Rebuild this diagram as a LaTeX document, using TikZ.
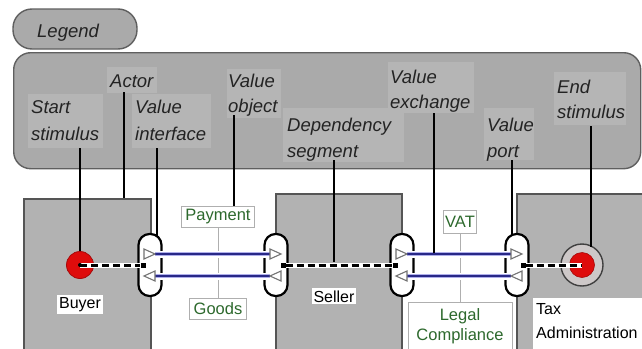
\documentclass[tikz,border=0pt]{standalone}
\usepackage{fontspec}
\setmainfont{Liberation Sans}
\usetikzlibrary{shapes.geometric}
\definecolor{legfill}{RGB}{170,170,170}
\definecolor{legtextbg}{RGB}{181,181,181}
\definecolor{legdraw}{RGB}{95,95,95}
\definecolor{actfill}{RGB}{178,178,178}
\definecolor{actdraw}{RGB}{85,85,85}
\definecolor{stimred}{RGB}{222,12,12}
\definecolor{endgray}{RGB}{205,200,200}
\definecolor{navyline}{RGB}{40,40,135}
\definecolor{halo}{RGB}{175,175,235}
\definecolor{lblgreen}{RGB}{45,105,45}
\definecolor{lblborder}{RGB}{175,175,175}
\definecolor{porttri}{RGB}{115,115,115}
\definecolor{legtxt}{RGB}{35,35,35}
\begin{document}
\begin{tikzpicture}[x=1pt,y=-1pt,
  legtxt/.style={font=\fontsize{18.5}{22}\selectfont\itshape, text=legtxt, inner sep=0pt, anchor=base west},
  actorbox/.style={draw=actdraw, fill=actfill, line width=2pt, rectangle, inner sep=0pt, anchor=north west},
  iface/.style={draw=black, fill=white, line width=2.2pt, rectangle, rounded corners=11pt, minimum width=23pt, minimum height=62pt, inner sep=0pt},
  leader/.style={draw=black, line width=1.1pt},
  lbl/.style={draw=lblborder, fill=white, line width=0.8pt, font=\fontsize{16.5}{20}\selectfont, text=lblgreen, inner xsep=4pt, minimum height=21pt, inner ysep=0pt},
  lbltext/.style={font=\fontsize{16.5}{20}\selectfont, text=lblgreen, inner sep=0pt, anchor=base},
  lblline/.style={draw=lblborder, line width=0.8pt},
  exch/.style={draw=navyline, line width=2pt, preaction={draw=white, line width=7pt}, preaction={draw=halo, line width=4pt}},
  dep/.style={draw=black, line width=3pt, dash pattern=on 7pt off 4pt, preaction={draw=white, line width=5pt}},
  port/.style={draw=porttri, fill=white, line width=1.1pt, line join=miter},
  actlbl/.style={font=\fontsize{16}{20}\selectfont, text=black, fill=white, inner sep=2pt},
  depdot/.style={fill=black, rectangle, minimum size=5pt, inner sep=0pt}
]
\clip (0,0) rectangle (642,348);
\fill[white] (0,0) rectangle (642,348);

% legend
\node[draw=legdraw, fill=legfill, line width=1.4pt, rectangle, rounded corners=19pt, minimum width=124pt, minimum height=40pt, inner sep=0pt] (legend) at (75,29) {};
\node[legtxt] (legendtxt) at (37,37) {Legend};
\node[draw=legdraw, fill=legfill, line width=1.4pt, rectangle, rounded corners=17pt, minimum width=627pt, minimum height=116pt, inner sep=0pt, anchor=north west] (legbox) at (13,52) {};

% text backgrounds
\fill[legtextbg] (28,94) rectangle (103,148);
\fill[legtextbg] (107,67) rectangle (157,93);
\fill[legtextbg] (132,94) rectangle (211,148);
\fill[legtextbg] (227,69) rectangle (281,118);
\fill[legtextbg] (283,108) rectangle (404,162);
\fill[legtextbg] (388,62) rectangle (474,113);
\fill[legtextbg] (484,108) rectangle (534,160);
\fill[legtextbg] (554,72) rectangle (626,125);

% legend texts
\node[legtxt] (tstart1) at (31,113) {Start};
\node[legtxt] (tstart2) at (31,140) {stimulus};
\node[legtxt] (tactor) at (110,87) {Actor};
\node[legtxt] (tvi1) at (135,113) {Value};
\node[legtxt] (tvi2) at (135,140) {interface};
\node[legtxt] (tvo1) at (228,87) {Value};
\node[legtxt] (tvo2) at (228,112) {object};
\node[legtxt] (tds1) at (287,131) {Dependency};
\node[legtxt] (tds2) at (287,157) {segment};
\node[legtxt] (tve1) at (390,83) {Value};
\node[legtxt] (tve2) at (390,108) {exchange};
\node[legtxt] (tvp1) at (487,131) {Value};
\node[legtxt] (tvp2) at (487,157) {port};
\node[legtxt] (tes1) at (557,93) {End};
\node[legtxt] (tes2) at (557,118) {stimulus};

% actors
\node[actorbox, minimum width=127pt, minimum height=170pt] (buyer) at (23,198) {};
\node[actorbox, minimum width=126pt, minimum height=170pt] (seller) at (275,193) {};
\node[actorbox, minimum width=140pt, minimum height=170pt] (tax) at (516,193) {};

% leader line top ends
\coordinate (lstart) at (80,148);
\coordinate (lactor) at (124,92);
\coordinate (lvi) at (157,148);
\coordinate (lvo) at (234,115);
\coordinate (lds) at (334,160);
\coordinate (lve) at (434,113);
\coordinate (lvp) at (512,160);
\coordinate (les) at (591,126);

% value object labels
\node[lbl] (pay) at (218,217) {Payment};
\node[lbl] (goods) at (218,309) {Goods};
\node[lbl, inner xsep=1.5pt, minimum height=23pt] (vat) at (460,221.5) {VAT};
\node[draw=lblborder, fill=white, line width=0.8pt, rectangle, minimum width=104pt, minimum height=60pt, inner sep=0pt, anchor=north] (legal) at (460,302) {};
\node[lbltext] (legal1) at (460,320) {Legal};
\node[lbltext] (legal2) at (460,340) {Compliance};
\draw[lblline] (pay.south) -- (goods.north);
\draw[lblline] (vat.south) -- (legal.north -| vat.south);

% interfaces
\node[iface] (ib) at (150,265) {};
\node[iface] (is1) at (276,265) {};
\node[iface] (is2) at (402,265) {};
\node[iface] (it) at (517,265) {};

% leader lines
\draw[leader] (lactor) -- (lactor |- buyer.north);
\draw[leader] (lvi) -- (157,236);
\draw[leader] (lvo) -- (lvo |- pay.north);
\draw[leader] (lvp) -- (512,234.5);

% port coordinates
\foreach \n/\c in {b/150, s/276, r/402, t/517}{
  \coordinate (\n top) at (\c,254);
  \coordinate (\n bot) at (\c,276);
}
% exchanges
\draw[exch] ([xshift=5pt]btop) -- ([xshift=-6pt]stop);
\draw[exch] ([xshift=-6pt]sbot) -- ([xshift=5pt]bbot);
\draw[exch] ([xshift=5pt]rtop) -- ([xshift=-6pt]ttop);
\draw[exch] ([xshift=-6pt]tbot) -- ([xshift=5pt]rbot);
\draw[leader] (lve) -- (434,252.5);

% ports
\foreach \n in {b, s, r, t}{
  \draw[port] ([shift={(-6pt,-5pt)}]\n top) -- ([xshift=5pt]\n top) -- ([shift={(-6pt,5pt)}]\n top) -- cycle;
  \draw[port] ([shift={(5pt,-5pt)}]\n bot) -- ([xshift=-6pt]\n bot) -- ([shift={(5pt,5pt)}]\n bot) -- cycle;
}

% stimuli
\draw[leader] (lstart) -- (80,258);
\node[circle, fill=stimred, draw=stimred!75!black, line width=0.8pt, minimum size=27pt, inner sep=0pt] (start) at (80,265) {};
\node[circle, fill=endgray, draw=black!75, line width=1.4pt, minimum size=42pt, inner sep=0pt] (endout) at (582,265) {};
\node[circle, fill=stimred, draw=stimred!75!black, line width=0.6pt, minimum size=25pt, inner sep=0pt] (endin) at (582,265) {};
\draw[leader] (les) -- (591,246.5);

% dependency segments
\node[depdot] (d1) at (143,265) {};
\node[depdot] (d2) at (283,265) {};
\node[depdot] (d3) at (395,265) {};
\node[depdot] (d4) at (523,265) {};
\draw[dep] (start.center) -- (d1.west);
\draw[dep] (d2.east) -- (d3.west);
\draw[dep] (d4.east) -- (endin.center);
\node[depdot] at (d1) {};
\node[depdot] at (d2) {};
\node[depdot] at (d3) {};
\node[depdot] at (d4) {};
\fill[black] (start.center) circle (2pt);
\draw[leader] (lds) -- (334,262);

% actor labels
\node[actlbl, anchor=base] (buyerlbl) at (80,308.5) {Buyer};
\node[actlbl, anchor=base] (sellerlbl) at (334,302) {Seller};
\node[fill=white, rectangle, minimum width=110pt, minimum height=52pt, inner sep=0pt, anchor=north west] (taxlbl) at (533,298) {};
\node[font=\fontsize{16}{20}\selectfont, inner sep=0pt, anchor=base west] (tax1) at (536,314.5) {Tax};
\node[font=\fontsize{16}{20}\selectfont, inner sep=0pt, anchor=base west] (tax2) at (536,338.5) {Administration};
\end{tikzpicture}
\end{document}
